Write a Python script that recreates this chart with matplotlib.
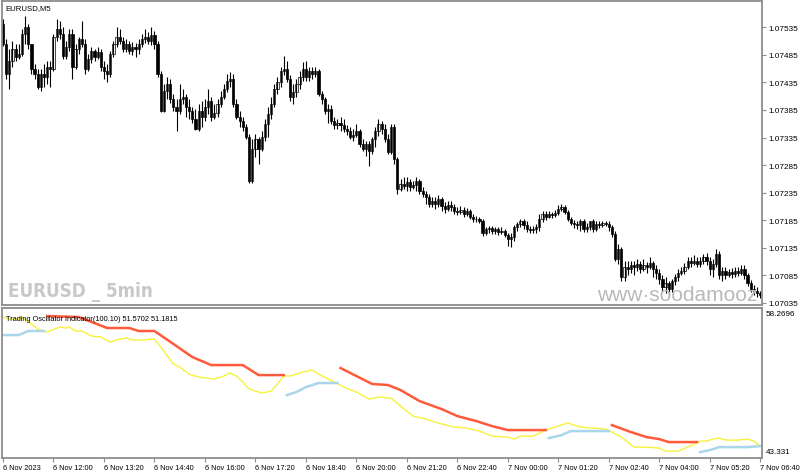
import numpy as np
import matplotlib
matplotlib.use("Agg")
import matplotlib.pyplot as plt

plt.rcParams["font.family"] = ["Liberation Sans", "DejaVu Sans"]

# EURUSD M5, prices stored in points (1e-5) above 1.07000
BASE = 1.07
FIRST_OPEN = 541
CLOSE = [
    505, 450, 474, 496, 481, 487, 523, 536, 505, 459, 450, 427, 450, 445, 463, 459,
    517, 532, 523, 483, 499, 523, 463, 496, 514, 505, 459, 478, 492, 481, 490, 463,
    456, 450, 487, 505, 517, 510, 496, 505, 492, 499, 496, 505, 514, 517, 510, 521,
    505, 450, 383, 419, 432, 405, 390, 383, 405, 409, 390, 383, 369, 351, 383, 372,
    390, 401, 372, 380, 396, 409, 423, 438, 441, 396, 372, 365, 354, 336, 256, 314,
    332, 314, 336, 360, 378, 396, 423, 436, 456, 459, 441, 409, 418, 432, 445, 459,
    445, 456, 450, 456, 414, 405, 383, 387, 365, 358, 361, 358, 351, 347, 336, 340,
    347, 323, 314, 323, 311, 332, 347, 360, 351, 332, 309, 354, 296, 242, 251, 247,
    254, 245, 249, 256, 238, 233, 227, 215, 220, 215, 224, 211, 205, 213, 209, 202,
    200, 204, 196, 202, 191, 187, 187, 184, 162, 169, 171, 166, 169, 164, 166, 158,
    151, 155, 173, 178, 184, 176, 169, 167, 169, 173, 187, 196, 191, 196, 195, 198,
    205, 209, 200, 187, 180, 178, 176, 184, 169, 173, 184, 169, 178, 176, 180, 178,
    173, 160, 115, 133, 82, 100, 97, 104, 100, 106, 97, 104, 100, 108, 97, 89,
    79, 64, 71, 60, 75, 82, 89, 93, 100, 111, 108, 111, 106, 111, 118, 111,
    97, 106, 124, 86, 93, 86, 91, 88, 93, 89, 97, 86, 71, 60, 57, 53, 49,
]
HIGH = [
    550, 514, 496, 510, 505, 505, 532, 555, 541, 505, 468, 459, 459, 468, 474, 474,
    523, 550, 546, 536, 510, 532, 532, 505, 517, 546, 514, 487, 499, 496, 499, 496,
    474, 468, 492, 510, 536, 532, 517, 514, 510, 508, 507, 514, 523, 532, 526, 536,
    528, 510, 456, 432, 445, 441, 414, 405, 432, 423, 414, 405, 390, 387, 396, 401,
    405, 423, 409, 396, 405, 419, 432, 450, 454, 450, 405, 383, 372, 360, 341, 332,
    341, 336, 347, 369, 390, 409, 432, 445, 463, 483, 474, 449, 432, 441, 456, 472,
    474, 463, 463, 463, 459, 419, 409, 396, 394, 372, 369, 372, 369, 358, 354, 351,
    360, 351, 332, 329, 329, 336, 354, 369, 365, 360, 341, 360, 360, 300, 260, 263,
    263, 260, 256, 263, 260, 245, 238, 233, 227, 227, 231, 227, 218, 220, 220, 215,
    209, 211, 209, 207, 205, 196, 193, 191, 187, 173, 175, 175, 173, 173, 173, 169,
    162, 162, 176, 182, 187, 187, 184, 175, 175, 178, 196, 202, 202, 202, 200, 204,
    213, 215, 213, 204, 191, 186, 184, 187, 187, 180, 184, 187, 184, 184, 184, 184,
    184, 176, 166, 142, 137, 111, 111, 111, 111, 115, 111, 115, 109, 118, 111, 104,
    97, 86, 82, 75, 79, 88, 97, 100, 108, 118, 118, 122, 118, 118, 124, 126,
    118, 115, 133, 129, 100, 100, 97, 98, 100, 100, 104, 104, 89, 77, 68, 64, 57,
]
LOW = [
    501, 441, 423, 463, 474, 478, 483, 505, 496, 450, 441, 423, 419, 427, 432, 427,
    456, 510, 514, 478, 478, 492, 441, 459, 487, 499, 450, 456, 470, 474, 478, 456,
    441, 436, 445, 481, 499, 505, 490, 490, 487, 485, 481, 487, 499, 507, 505, 503,
    496, 445, 381, 381, 405, 398, 383, 347, 378, 396, 372, 369, 361, 349, 347, 354,
    365, 378, 365, 369, 372, 390, 405, 418, 427, 390, 369, 354, 347, 332, 253, 253,
    300, 287, 311, 329, 336, 369, 390, 414, 427, 449, 436, 401, 396, 409, 423, 438,
    438, 438, 441, 445, 410, 396, 378, 361, 360, 351, 351, 347, 345, 340, 332, 329,
    336, 318, 311, 302, 283, 305, 318, 338, 341, 327, 305, 305, 287, 233, 238, 242,
    238, 238, 242, 238, 233, 227, 215, 209, 209, 205, 209, 202, 198, 202, 202, 196,
    195, 196, 191, 193, 187, 182, 182, 180, 157, 158, 162, 160, 160, 158, 160, 155,
    138, 137, 147, 166, 173, 169, 164, 162, 162, 162, 166, 182, 186, 189, 189, 191,
    195, 202, 196, 184, 176, 171, 169, 166, 164, 164, 167, 164, 166, 171, 173, 175,
    166, 155, 111, 106, 75, 75, 86, 89, 86, 93, 89, 93, 89, 97, 82, 79,
    69, 57, 53, 49, 55, 68, 75, 86, 88, 97, 100, 104, 100, 100, 106, 104,
    86, 82, 100, 79, 75, 79, 82, 80, 82, 84, 86, 79, 66, 55, 49, 46, 44,
]

PRICE_TICKS = [1.07035, 1.07085, 1.07135, 1.07185, 1.07235, 1.07285,
               1.07335, 1.07385, 1.07435, 1.07485, 1.07535]
TIME_LABELS = ["6 Nov 2023", "6 Nov 12:00", "6 Nov 13:20", "6 Nov 14:40", "6 Nov 16:00",
               "6 Nov 17:20", "6 Nov 18:40", "6 Nov 20:00", "6 Nov 21:20", "6 Nov 22:40",
               "7 Nov 00:00", "7 Nov 01:20", "7 Nov 02:40", "7 Nov 04:00", "7 Nov 05:20",
               "7 Nov 06:40"]

# oscillator: (bar index, value)
YEL_X = [0, 2, 5, 6, 9, 11, 14, 18, 20, 21, 23, 25, 28, 31, 34, 37, 39, 41, 44, 48, 50,
         54, 56, 59, 62, 67, 70, 72, 74, 76, 78, 82, 85, 87, 89, 91, 93, 95, 98, 100,
         105, 108, 112, 116, 119, 123, 126, 130, 134, 138, 143, 147, 151, 155, 160, 162,
         164, 168, 172, 176, 179, 183, 187, 191, 193, 196, 200, 204, 208, 210, 214, 217,
         219, 221, 223, 225, 227, 229, 233, 236, 238, 240]
YEL_Y = [57.46, 57.26, 57.26, 57.46, 56.75, 56.25, 55.95, 56.45, 56.35, 56.45, 56.05,
         56.05, 55.54, 55.44, 54.94, 55.24, 55.34, 55.14, 55.14, 55.24, 54.43, 52.72,
         52.41, 51.70, 51.40, 51.20, 51.50, 51.81, 51.50, 50.90, 50.19, 49.79, 49.99,
         50.70, 51.50, 51.50, 51.70, 51.91, 52.11, 51.70, 50.90, 50.39, 49.89, 49.18,
         49.38, 49.28, 48.47, 47.46, 47.16, 46.76, 46.35, 46.25, 45.95, 45.44, 45.34,
         45.14, 45.44, 45.44, 46.05, 46.45, 46.76, 46.35, 46.25, 46.15, 45.85, 45.34,
         44.33, 44.33, 44.23, 43.93, 43.93, 44.33, 44.63, 44.94, 44.94, 45.14, 45.24,
         45.04, 45.04, 45.14, 44.94, 44.43]
RED_SEGS = [
    ([14, 24, 33, 40, 43, 48, 54, 60, 66, 76, 81, 89],
     [57.56, 57.46, 56.35, 56.35, 56.05, 56.05, 54.74, 53.42, 52.61, 52.61, 51.60, 51.60]),
    ([107, 117, 122, 126, 132, 139, 144, 150, 155, 160, 172],
     [52.31, 50.70, 50.60, 50.09, 48.98, 48.17, 47.46, 46.96, 46.45, 46.05, 46.05]),
    ([193, 199, 204, 208, 211, 220],
     [46.55, 45.85, 45.34, 45.14, 44.84, 44.84]),
]
BLUE_SEGS = [
    ([0, 5, 8, 13], [55.64, 55.64, 56.05, 56.05]),
    ([90, 93, 96, 100, 106], [49.58, 49.89, 50.39, 50.80, 50.80]),
    ([173, 177, 180, 192], [45.24, 45.54, 45.95, 45.95]),
    ([221, 224, 227, 236, 240], [43.83, 44.03, 44.33, 44.33, 44.43]),
]

GRID_GREY = "#8c8c8c"
SMALL = 5.6

close = BASE + np.array(CLOSE) / 1e5
high = BASE + np.array(HIGH) / 1e5
low = BASE + np.array(LOW) / 1e5
opn = np.concatenate([[BASE + FIRST_OPEN / 1e5], close[:-1]])
x = np.arange(len(close))

fig = plt.figure(figsize=(8, 4.77), dpi=100)
ax1 = fig.add_axes([0.0025, 0.3585, 0.95, 0.6373])
ax2 = fig.add_axes([0.0025, 0.0377, 0.95, 0.3145])

for ax in (ax1, ax2):
    ax.set_xlim(-0.32, 240.57)
    for s in ax.spines.values():
        s.set_color(GRID_GREY)
        s.set_linewidth(1.3)

# --- main candles ---
up = close >= opn
ax1.vlines(x, low, high, color="black", lw=0.8)
ax1.bar(x, close - opn, bottom=opn, width=0.7,
        color=np.where(up, "white", "black"), edgecolor="black", linewidth=0.5)
ax1.set_ylim(1.070313, 1.075827)
ax1.yaxis.tick_right()
ax1.set_yticks(PRICE_TICKS)
ax1.set_yticklabels([f"{p:.5f}" for p in PRICE_TICKS])
ax1.tick_params(axis="y", length=3, color=GRID_GREY, labelsize=5.9, pad=1.5)
ax1.set_xticks([])

ax1.text(0.005, 0.978, "EURUSD,M5", transform=ax1.transAxes, fontsize=SMALL,
         va="center", ha="left")
ax1.text(0.008, 0.012, "EURUSD _ 5min", transform=ax1.transAxes, fontsize=13.5,
         fontweight="bold", fontstretch="condensed", color="#c8c8c8",
         va="bottom", ha="left", family=["DejaVu Sans"])
ax1.text(0.783, 0.003, "www·soodamooz", transform=ax1.transAxes, fontsize=15,
         color="#b9b9b9", va="bottom", ha="left", clip_on=True)

# --- oscillator panel ---
ax2.plot(YEL_X, YEL_Y, color="#f7f23a", lw=1.0)
for sx, sy in RED_SEGS:
    ax2.plot(sx, sy, color="#ff5a3c", lw=1.8)
for sx, sy in BLUE_SEGS:
    ax2.plot(sx, sy, color="#a9d6ea", lw=1.8)
ax2.set_ylim(43.23, 58.37)
ax2.set_yticks([])
ax2.set_xticks(np.arange(0, 241, 16))
ax2.set_xticklabels(TIME_LABELS, ha="left")
ax2.tick_params(axis="x", length=3, color=GRID_GREY, labelsize=5.3, pad=1.5)

ax2.text(0.005, 0.93, "Trading Oscillator Indicator(100.10) 51.5702 51.1815",
         transform=ax2.transAxes, fontsize=5.3, va="center", ha="left")
ax2.text(1.005, 0.965, "58.2696", transform=ax2.transAxes, fontsize=5.9,
         va="center", ha="left")
ax2.text(1.005, 0.045, "43.331", transform=ax2.transAxes, fontsize=5.9,
         va="center", ha="left")

fig.savefig("out.png", dpi=100)
